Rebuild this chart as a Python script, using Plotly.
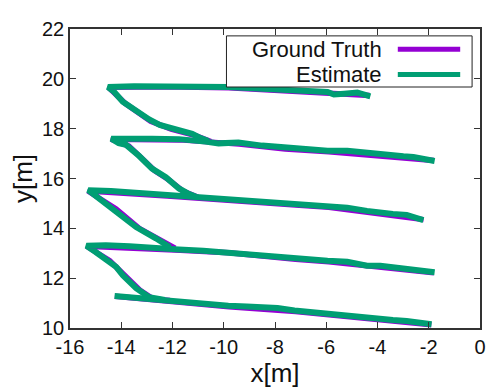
import plotly.graph_objects as go

# ---------------- data ----------------
# Estimate trajectory: segments separated by None
est_x = [
    -4.28, -4.79, -5.30, -5.70, -5.95, -6.80, -7.88, -8.90, -9.82, -11.00, -12.30, -13.50, -14.52,
    -14.30, -13.94, -13.40, -12.91, -12.50, -12.14, -11.70, -11.23, -10.90, -10.60,
    None,
    -1.77, -2.21, -2.60, -2.99, -3.45, -3.89, -4.41, -5.18, -5.95, -6.80, -7.63, -8.50, -9.43, -10.20,
    -10.72, -11.75, -12.80, -13.80, -14.39,
    -14.10, -13.81, -13.30, -12.80, -12.26, -11.75, -11.40, -11.10,
    None,
    -2.21, -2.50, -2.86, -3.40, -3.89, -4.41, -5.18, -5.95, -6.60, -7.24, -8.30, -9.43, -10.20, -11.10,
    -12.26, -13.30, -14.40, -15.29,
    -15.00, -14.33, -13.90, -13.42, -12.65, -12.10,
    None,
    -1.77, -2.10, -2.60, -3.20, -3.89, -4.41, -5.18, -5.95, -6.60, -7.24, -8.10, -8.92, -9.82, -10.80,
    -11.75, -12.60, -13.68, -14.60, -15.36,
    -15.00, -14.58, -14.20, -13.94, -13.42, -12.91, -12.30,
    None,
    -1.89, -2.30, -2.86, -3.40, -3.89, -4.41, -5.18, -5.95, -6.60, -7.24, -7.90, -8.40, -9.10, -9.82,
    -11.00, -12.39, -13.30, -14.26,
]
est_y = [
    19.30, 19.45, 19.40, 19.37, 19.47, 19.52, 19.60, 19.63, 19.67, 19.68, 19.70, 19.70, 19.67,
    19.50, 19.08, 18.70, 18.37, 18.15, 18.05, 17.92, 17.79, 17.62, 17.50,
    None,
    16.70, 16.80, 16.86, 16.89, 16.93, 16.96, 17.02, 17.11, 17.11, 17.18, 17.21, 17.32, 17.44, 17.41,
    17.48, 17.58, 17.60, 17.62, 17.60,
    17.42, 17.35, 16.90, 16.40, 16.05, 15.60, 15.40, 15.28,
    None,
    14.33, 14.45, 14.54, 14.58, 14.63, 14.70, 14.83, 14.89, 14.93, 14.98, 15.07, 15.15, 15.21, 15.28,
    15.34, 15.42, 15.50, 15.53,
    15.30, 14.83, 14.45, 14.05, 13.60, 13.24,
    None,
    12.24, 12.28, 12.31, 12.42, 12.50, 12.50, 12.66, 12.70, 12.76, 12.79, 12.90, 12.98, 13.05, 13.10,
    13.15, 13.22, 13.28, 13.32, 13.30,
    13.05, 12.76, 12.45, 12.12, 11.60, 11.24, 11.13,
    None,
    10.15, 10.22, 10.28, 10.32, 10.37, 10.37, 10.50, 10.57, 10.64, 10.70, 10.80, 10.85, 10.86, 10.89,
    11.00, 11.15, 11.22, 11.28,
]

# Ground truth trajectory (smoother), segments separated by None
gt_x = [
    -4.30, -5.90, -7.90, -9.80, -12.30, -14.50,
    -13.85, -12.85, -12.05, -11.10, -10.50,
    None,
    -1.80, -3.90, -5.90, -7.60, -9.40, -11.70, -14.40,
    -13.70, -12.70, -12.15, -11.60, -11.00,
    None,
    -2.20, -3.90, -5.90, -7.20, -9.40, -12.20, -15.30,
    -14.20, -13.30, -12.50, -11.90,
    None,
    -1.80, -3.90, -5.90, -7.20, -9.80, -11.70, -15.35,
    -14.45, -13.80, -13.25, -12.75, -12.10,
    None,
    -1.90, -3.90, -5.90, -7.20, -9.80, -12.40, -14.25,
]
gt_y = [
    19.33, 19.42, 19.57, 19.64, 19.68, 19.66,
    19.02, 18.30, 17.98, 17.72, 17.48,
    None,
    16.72, 16.92, 17.07, 17.18, 17.38, 17.55, 17.58,
    17.30, 16.32, 15.95, 15.50, 15.25,
    None,
    14.35, 14.60, 14.85, 14.94, 15.12, 15.30, 15.50,
    14.78, 14.00, 13.52, 13.20,
    None,
    12.22, 12.46, 12.66, 12.76, 13.02, 13.12, 13.28,
    12.70, 12.05, 11.50, 11.16, 11.10,
    None,
    10.13, 10.33, 10.53, 10.66, 10.85, 11.10, 11.27,
]

series_names = ["Ground Truth", "Estimate"]
series_colors = ["#9400D3", "#009E73"]
x_ticks = [-16, -14, -12, -10, -8, -6, -4, -2, 0]
y_ticks = [10, 12, 14, 16, 18, 20, 22]

# ---------------- figure ----------------
FONT = "Liberation Sans, Arial, sans-serif"
AX = "#333333"

fig = go.Figure()
fig.add_trace(go.Scatter(x=gt_x, y=gt_y, mode="lines", name=series_names[0],
                         line=dict(color=series_colors[0], width=5.5), connectgaps=False,
                         showlegend=False))
fig.add_trace(go.Scatter(x=est_x, y=est_y, mode="lines", name=series_names[1],
                         line=dict(color=series_colors[1], width=6), connectgaps=False,
                         showlegend=False))

axis_common = dict(showgrid=False, zeroline=False, showline=True, linecolor=AX, linewidth=1.5,
                   mirror="allticks", ticks="inside", ticklen=6, tickwidth=1.3, tickcolor=AX,
                   tickfont=dict(family=FONT, size=20, color="#111111"))

fig.update_xaxes(range=[-16, 0], tickvals=x_ticks, ticktext=[str(v) for v in x_ticks],
                 title=dict(text="x[m]", font=dict(family=FONT, size=26, color="#111111"), standoff=2),
                 **axis_common)
fig.update_yaxes(range=[10, 22], tickvals=y_ticks, ticktext=[str(v) for v in y_ticks],
                 title=dict(text="y[m]", font=dict(family=FONT, size=26, color="#111111"), standoff=2),
                 **axis_common)

# gnuplot-style key (text right-aligned, sample line on the right)
shapes = [dict(type="rect", xref="paper", yref="paper", x0=0.3816, x1=0.9807, y0=0.806, y1=0.977,
               line=dict(color="#222222", width=1), fillcolor="white", layer="above")]
annotations = []
rows_y = [0.932, 0.848]
for name, col, yy in zip(series_names, series_colors, rows_y):
    shapes.append(dict(type="line", xref="paper", yref="paper", x0=0.7995, x1=0.9517, y0=yy, y1=yy,
                       line=dict(color=col, width=5), layer="above"))
    annotations.append(dict(xref="paper", yref="paper", x=0.7657, y=yy, text=name, showarrow=False,
                            xanchor="right", yanchor="middle",
                            font=dict(family=FONT, size=22, color="#111111")))

# the page body adds an 8px margin, so the figure is sized to fit the 496x392 window
fig.update_layout(
    width=488, height=384,
    margin=dict(l=62, r=12, t=10, b=64),
    paper_bgcolor="white", plot_bgcolor="white",
    shapes=shapes, annotations=annotations,
    showlegend=False,
)

fig.write_html("out.html")
